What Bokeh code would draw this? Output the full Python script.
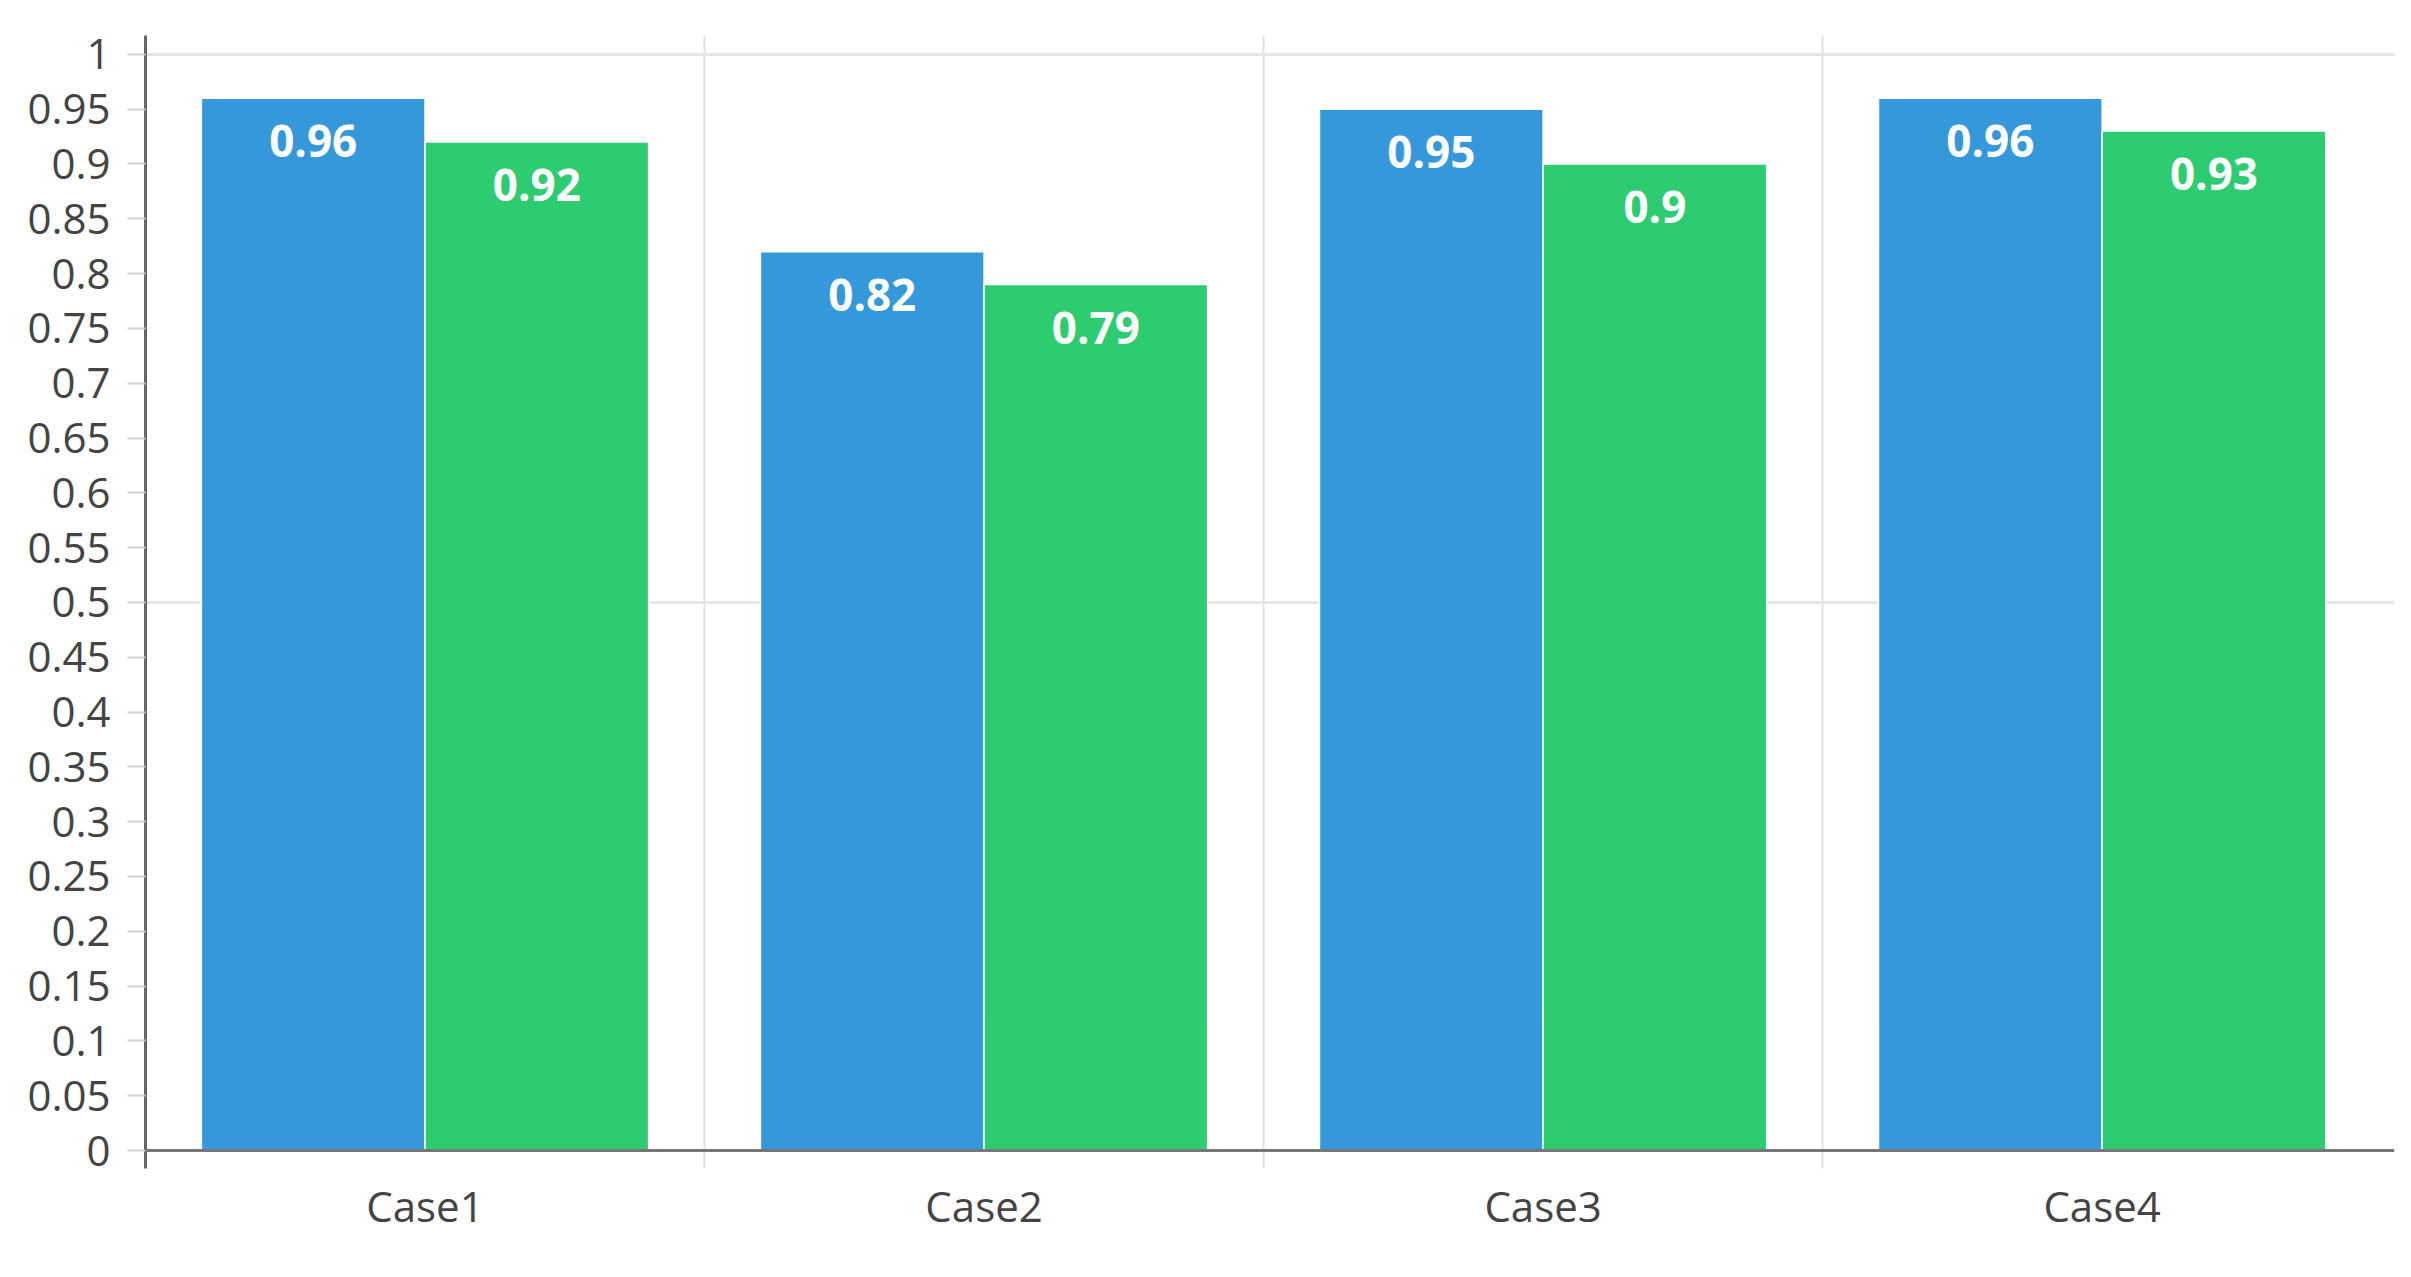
from bokeh.plotting import figure
from bokeh.models import ColumnDataSource, FixedTicker, Span, Range1d
from bokeh.core.properties import value
from bokeh.embed import file_html
from bokeh.resources import INLINE

categories = ["Case1", "Case2", "Case3", "Case4"]
series_a = [0.96, 0.82, 0.95, 0.96]
series_b = [0.92, 0.79, 0.90, 0.93]
y_ticks = [0, 0.05, 0.1, 0.15, 0.2, 0.25, 0.3, 0.35, 0.4, 0.45, 0.5,
           0.55, 0.6, 0.65, 0.7, 0.75, 0.8, 0.85, 0.9, 0.95, 1]
y_tick_labels = ["0", "0.05", "0.1", "0.15", "0.2", "0.25", "0.3", "0.35", "0.4", "0.45", "0.5",
                 "0.55", "0.6", "0.65", "0.7", "0.75", "0.8", "0.85", "0.9", "0.95", "1"]

BLUE = "#3498db"
GREEN = "#2ecc71"
FONT = "Open Sans"

idx = list(range(len(categories)))
src_a = ColumnDataSource(dict(x=[i + 0.3 for i in idx], top=series_a,
                              label=[f"{v:g}" for v in series_a]))
src_b = ColumnDataSource(dict(x=[i + 0.7 for i in idx], top=series_b,
                              label=[f"{v:g}" for v in series_b]))

p = figure(width=2395, height=1260, output_backend="svg", toolbar_location=None,
           x_range=Range1d(0, 4.023), y_range=Range1d(-0.0164, 1.0172),
           min_border_left=145, min_border_right=1, min_border_top=35, min_border_bottom=92)
p.outline_line_color = None
p.background_fill_color = "white"

p.vbar(x="x", top="top", width=0.4, bottom=0, source=src_a, fill_color=BLUE,
       line_color="white", line_width=1.5)
p.vbar(x="x", top="top", width=0.4, bottom=0, source=src_b, fill_color=GREEN,
       line_color="white", line_width=1.5)

for src in (src_a, src_b):
    p.text(x="x", y="top", text="label", source=src, text_color="white",
           text_font=value(FONT), text_font_style="bold", text_font_size="44px",
           text_align="center", text_baseline="middle", y_offset=43)

# x axis line at zero
p.add_layout(Span(location=0, dimension="width", line_color="#777777", line_width=3))

# x axis: labels at category centres
p.xaxis.ticker = FixedTicker(ticks=[i + 0.5 for i in idx])
p.xaxis.major_label_overrides = {i + 0.5: c for i, c in zip(idx, categories)}
p.xaxis.axis_line_color = None
p.xaxis.major_tick_line_color = None
p.xaxis.minor_tick_line_color = None
p.xaxis.major_label_text_font = FONT
p.xaxis.major_label_text_font_size = "42px"
p.xaxis.major_label_text_color = "#444444"
p.xaxis.major_label_standoff = 2

# y axis
p.yaxis.ticker = FixedTicker(ticks=y_ticks)
p.yaxis.major_label_overrides = {t: l for t, l in zip(y_ticks, y_tick_labels)}
p.yaxis.axis_line_color = "#666666"
p.yaxis.axis_line_width = 3
p.yaxis.major_tick_line_color = "#d0d0d0"
p.yaxis.major_tick_line_width = 2
p.yaxis.major_tick_out = 18
p.yaxis.major_tick_in = 0
p.yaxis.minor_tick_line_color = None
p.yaxis.major_label_text_font = FONT
p.yaxis.major_label_text_font_size = "42px"
p.yaxis.major_label_text_color = "#444444"
p.yaxis.major_label_standoff = 17

# grids
p.xgrid.ticker = FixedTicker(ticks=[1, 2, 3])
p.xgrid.grid_line_color = "#e3e3e3"
p.xgrid.grid_line_width = 2
p.ygrid.ticker = FixedTicker(ticks=[0.5, 1])
p.ygrid.grid_line_color = "#e6e6e6"
p.ygrid.grid_line_width = 3

open("out.html", "w").write(file_html(p, INLINE))
